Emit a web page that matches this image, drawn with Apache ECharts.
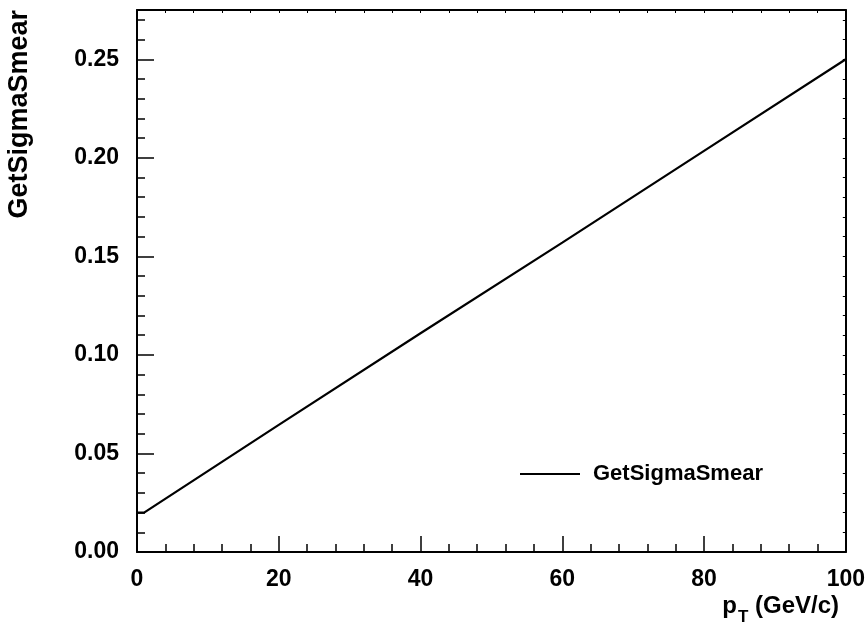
<!DOCTYPE html>
<html>
<head>
<meta charset="utf-8">
<script src="https://cdn.jsdelivr.net/npm/echarts@6/dist/echarts.min.js"></script>
<style>
  html, body { margin: 0; padding: 0; background: #fff; }
  #chart { width: 868px; height: 635px; }
</style>
</head>
<body>
<div id="chart"></div>
<script>
// values
var ptValues = [0, 1, 20, 40, 60, 80, 100];
var sigmaValues = [0.02, 0.02, 0.0645, 0.111, 0.157, 0.2035, 0.25];
var yMajorTicks = [0, 0.05, 0.10, 0.15, 0.20, 0.25];
var seriesName = 'GetSigmaSmear';

var font = 'Liberation Sans, Arial, Helvetica, sans-serif';
var points = ptValues.map(function (x, i) { return [x, sigmaValues[i]]; });

var chart = echarts.init(document.getElementById('chart'));
var option = {
  backgroundColor: '#fff',
  animation: false,
  grid: { left: 137, right: 22, top: 10, bottom: 83 },
  legend: {
    data: [seriesName],
    left: 520,
    top: 463,
    padding: 0,
    icon: 'rect',
    itemWidth: 60,
    itemHeight: 2,
    itemStyle: { color: '#000' },
    textStyle: { fontFamily: font, fontWeight: 'bold', fontSize: 22, color: '#000', padding: [0, 0, 0, 8] }
  },
  xAxis: [
    {
      type: 'value', position: 'bottom', min: 0, max: 100, interval: 20,
      axisLine: { onZero: false, lineStyle: { color: '#000', width: 2 } },
      axisTick: { inside: true, length: 16, lineStyle: { color: '#000', width: 1.5 } },
      minorTick: { show: true, splitNumber: 5, length: 8, lineStyle: { color: '#000', width: 1.5 } },
      axisLabel: { margin: 16, fontFamily: font, fontWeight: 'bold', fontSize: 23, color: '#000' },
      splitLine: { show: false }
    },
    {
      type: 'value', position: 'top', min: 0, max: 100, interval: 4,
      axisLine: { onZero: false, lineStyle: { color: '#000', width: 2 } },
      axisTick: { inside: true, length: 3, lineStyle: { color: '#000', width: 1 } },
      axisLabel: { show: false },
      splitLine: { show: false }
    }
  ],
  yAxis: [
    {
      type: 'value', position: 'left', min: 0, max: 0.275, interval: 0.01,
      axisLine: { onZero: false, lineStyle: { color: '#000', width: 2 } },
      axisTick: { inside: true, length: 8, lineStyle: { color: '#000', width: 1.5 } },
      axisLabel: {
        customValues: yMajorTicks, margin: 18,
        fontFamily: font, fontWeight: 'bold', fontSize: 23, color: '#000',
        formatter: function (v) { return v.toFixed(2); }
      },
      splitLine: { show: false }
    },
    {
      type: 'value', position: 'left', min: 0, max: 0.275, interval: 0.05,
      axisLine: { show: false, onZero: false },
      axisTick: { inside: true, length: 17, customValues: yMajorTicks, lineStyle: { color: '#000', width: 1.5 } },
      axisLabel: { show: false },
      splitLine: { show: false }
    },
    {
      type: 'value', position: 'right', min: 0, max: 0.275, interval: 0.01,
      axisLine: { onZero: false, lineStyle: { color: '#000', width: 2 } },
      axisTick: { inside: true, length: 3, lineStyle: { color: '#000', width: 1 } },
      axisLabel: { show: false },
      splitLine: { show: false }
    }
  ],
  graphic: [
    {
      type: 'text', x: 20, y: 10, rotation: Math.PI / 2,
      style: {
        text: 'GetSigmaSmear', align: 'right', verticalAlign: 'middle',
        font: 'bold 27px ' + font, fill: '#000'
      }
    },
    {
      type: 'text', right: 29, top: 594,
      style: {
        text: '{p|p}{s|T}{p| (GeV/c)}',
        rich: {
          p: { font: 'bold 24px ' + font, fill: '#000', verticalAlign: 'bottom' },
          s: { font: 'bold 17px ' + font, fill: '#000', padding: [0, 0, -8, 1], verticalAlign: 'bottom' }
        }
      }
    }
  ],
  series: [
    {
      name: seriesName,
      type: 'line',
      xAxisIndex: 0,
      yAxisIndex: 0,
      data: points,
      symbol: 'none',
      lineStyle: { color: '#000', width: 2.2 },
      itemStyle: { color: '#000' }
    }
  ]
};
chart.setOption(option);
</script>
</body>
</html>
